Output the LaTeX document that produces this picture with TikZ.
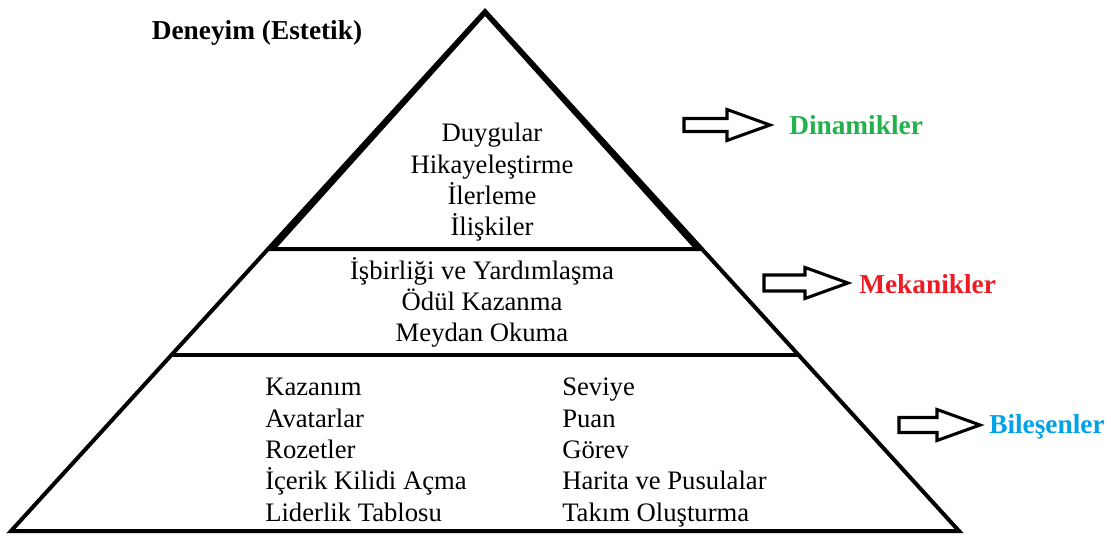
\documentclass[tikz,border=0pt]{standalone}
\usepackage{fontspec}
\setmainfont{Liberation Serif}
\definecolor{dingreen}{RGB}{34,177,76}
\definecolor{mekred}{RGB}{237,28,36}
\definecolor{bilblue}{RGB}{0,162,232}
\tikzset{
  edge/.style={line width=3pt, line join=miter},
  sep/.style={line width=3pt},
  txt/.style={font=\fontsize{20}{23.5}\selectfont, inner sep=0pt, align=center},
  coltxt/.style={font=\fontsize{20}{23.5}\selectfont, inner sep=0pt, align=left, anchor=north west},
  lbl/.style={font=\fontsize{20.5}{24}\selectfont\bfseries, inner sep=0pt, anchor=west},
  barrowline/.style={line width=2.3pt, line join=miter, fill=white},
  pics/barrow/.style args={#1/#2/#3}{code={
    \draw[barrowline] (0,-#2) -- (#1-43,-#2) -- (#1-43,-#3) -- (#1,0) -- (#1-43,#3) -- (#1-43,#2) -- (0,#2) -- cycle;
  }}
}
\begin{document}
\begin{tikzpicture}[x=0.75pt,y=-0.75pt]
\useasboundingbox (0,0) rectangle (1111,540);
% outer triangle
\coordinate (apex) at (485,11);
\coordinate (bl) at (11,531);
\coordinate (br) at (959,531);
\draw[edge] (apex) -- (bl) -- (br) -- cycle;
% inner top triangle
\coordinate (ia) at (485,13);
\coordinate (il) at (273,249);
\coordinate (ir) at (697,249);
\draw[edge] (ia) -- (il) -- (ir) -- cycle;
% separator line
\coordinate (sl) at (173,355);
\coordinate (sr) at (797,355);
\draw[sep] (sl) -- (sr);
% title
\node[font=\fontsize{20.5}{24}\selectfont\bfseries, inner sep=0pt] (title) at (257,33) {Deneyim (Estetik)};
% top block
\node[txt, anchor=north] (top) at (492,123) {Duygular\\Hikayeleştirme\\İlerleme\\İlişkiler};
% middle block
\node[txt, anchor=north] (mid) at (482,257) {İşbirliği ve Yardımlaşma\\Ödül Kazanma\\Meydan Okuma};
% bottom columns
\node[coltxt] (left) at (265,378) {Kazanım\\Avatarlar\\Rozetler\\İçerik Kilidi Açma\\Liderlik Tablosu};
\node[coltxt] (right) at (562,378) {Seviye\\Puan\\Görev\\Harita ve Pusulalar\\Takım Oluşturma};
% arrows and labels
\pic (a1) at (684,125) {barrow={86/6.5/15.5}};
\node[lbl, text=dingreen] (l1) at (789,125) {Dinamikler};
\pic (a2) at (764,283) {barrow={84/8/15.5}};
\node[lbl, text=mekred] (l2) at (859,284) {Mekanikler};
\pic (a3) at (899,425) {barrow={81/7.5/15.5}};
\node[lbl, text=bilblue] (l3) at (989,427) {Bileşenler};
\end{tikzpicture}
\end{document}
